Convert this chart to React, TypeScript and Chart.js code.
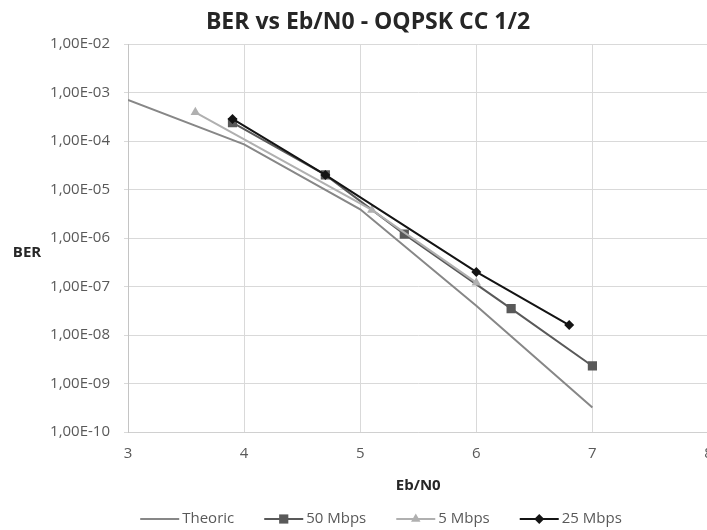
import React, { useEffect, useRef } from 'react';
import { Chart, registerables } from 'chart.js';

Chart.register(...registerables);

// ---- data ----
const theoricX = [3, 4, 5, 6, 7];
const theoricBer = [7e-4, 8.5e-5, 3.9e-6, 4e-8, 3.2e-10];
const mbps50X = [3.9, 4.7, 5.38, 6.3, 7.0];
const mbps50Ber = [2.4e-4, 2e-5, 1.2e-6, 3.5e-8, 2.3e-9];
const mbps5X = [3.58, 5.1, 6.0];
const mbps5Ber = [3.9e-4, 3.8e-6, 1.2e-7];
const mbps25X = [3.9, 4.7, 6.0, 6.8];
const mbps25Ber = [2.85e-4, 2e-5, 2e-7, 1.6e-8];

const seriesNames = ['Theoric', '50 Mbps', '5 Mbps', '25 Mbps'];
const xTickValues = [3, 4, 5, 6, 7, 8];
const yTickValues = [1e-2, 1e-3, 1e-4, 1e-5, 1e-6, 1e-7, 1e-8, 1e-9, 1e-10];
const yTickLabels = ['1,00E-02', '1,00E-03', '1,00E-04', '1,00E-05', '1,00E-06', '1,00E-07', '1,00E-08', '1,00E-09', '1,00E-10'];

const titleText = 'BER vs Eb/N0 - OQPSK CC 1/2';
const yTitle = 'BER';
const xTitle = 'Eb/N0';

// ---- styles ----
const FONT = '"Open Sans", "Noto Sans", sans-serif';
const seriesStyles = [
  { color: '#878787', point: false as false | string, radius: 0 },
  { color: '#595959', point: 'rect', radius: 6.5 },
  { color: '#b0b0b0', point: 'triangle', radius: 5.5 },
  { color: '#141414', point: 'rectRot', radius: 5 },
];

const toPoints = (xs: number[], ys: number[]) => xs.map((x, i) => ({ x, y: ys[i] }));

function drawMarker(ctx: CanvasRenderingContext2D, style: string, x: number, y: number, r: number, color: string) {
  ctx.save();
  ctx.fillStyle = color;
  ctx.beginPath();
  if (style === 'rect') {
    const s = Math.SQRT1_2 * r;
    ctx.rect(x - s, y - s, 2 * s, 2 * s);
  } else if (style === 'rectRot') {
    ctx.moveTo(x, y - r);
    ctx.lineTo(x + r, y);
    ctx.lineTo(x, y + r);
    ctx.lineTo(x - r, y);
    ctx.closePath();
  } else if (style === 'triangle') {
    ctx.moveTo(x, y - r);
    ctx.lineTo(x + r * 0.866, y + r * 0.5);
    ctx.lineTo(x - r * 0.866, y + r * 0.5);
    ctx.closePath();
  }
  ctx.fill();
  ctx.restore();
}

const textPlugin = {
  id: 'textPlugin',
  afterDraw(chart: any) {
    const ctx: CanvasRenderingContext2D = chart.ctx;
    const area = chart.chartArea;
    ctx.save();
    // title
    ctx.fillStyle = '#262626';
    ctx.font = `bold 23px ${FONT}`;
    ctx.textAlign = 'center';
    ctx.textBaseline = 'middle';
    ctx.fillText(titleText, 368, 22);
    // y title
    ctx.font = `bold 15px ${FONT}`;
    ctx.fillText(yTitle, 27, 253);
    // x title
    ctx.fillText(xTitle, (area.left + area.right) / 2, 486);

    // legend
    ctx.font = `15px ${FONT}`;
    const lineLen = 39;
    const gap = 3;
    const itemGap = 30;
    const widths = seriesNames.map((n) => lineLen + gap + ctx.measureText(n).width);
    const total = widths.reduce((a, b) => a + b, 0) + itemGap * (seriesNames.length - 1);
    let x = 381 - total / 2;
    const ly = 519;
    seriesNames.forEach((name, i) => {
      const st = seriesStyles[i];
      ctx.strokeStyle = st.color;
      ctx.lineWidth = 2;
      ctx.beginPath();
      ctx.moveTo(x, ly);
      ctx.lineTo(x + lineLen, ly);
      ctx.stroke();
      if (st.point) drawMarker(ctx, st.point, x + lineLen / 2, ly, st.radius, st.color);
      ctx.fillStyle = '#595959';
      ctx.textAlign = 'left';
      ctx.textBaseline = 'middle';
      ctx.fillText(name, x + lineLen + gap, ly);
      x += widths[i] + itemGap;
    });
    ctx.restore();
  },
};

export default function App() {
  const canvasRef = useRef<HTMLCanvasElement | null>(null);

  useEffect(() => {
    if (!canvasRef.current) return;
    const seriesData = [
      toPoints(theoricX, theoricBer),
      toPoints(mbps50X, mbps50Ber),
      toPoints(mbps5X, mbps5Ber),
      toPoints(mbps25X, mbps25Ber),
    ];
    const chart = new Chart(canvasRef.current, {
      type: 'line',
      data: {
        datasets: seriesNames.map((name, i) => ({
          label: name,
          data: seriesData[i],
          borderColor: seriesStyles[i].color,
          backgroundColor: seriesStyles[i].color,
          borderWidth: 2,
          tension: 0,
          fill: false,
          pointStyle: seriesStyles[i].point || 'circle',
          pointRadius: seriesStyles[i].point ? seriesStyles[i].radius : 0,
          pointHoverRadius: seriesStyles[i].point ? seriesStyles[i].radius : 0,
          pointBorderWidth: 0,
          order: seriesNames.length - i,
        })),
      },
      options: {
        responsive: false,
        animation: false,
        events: [],
        layout: { padding: { left: 0, top: 44, right: 2, bottom: 0 } },
        plugins: {
          legend: { display: false },
          title: { display: false },
          tooltip: { enabled: false },
        },
        scales: {
          x: {
            type: 'linear',
            min: 3,
            max: 8,
            afterBuildTicks: (scale: any) => {
              scale.ticks = xTickValues.map((v) => ({ value: v }));
            },
            afterFit: (scale: any) => {
              scale.height = 98;
              scale.paddingLeft = 0;
              scale.paddingRight = 0;
            },
            grid: { color: '#d9d9d9', lineWidth: 1, drawTicks: false },
            border: { color: '#d0d0d0', width: 1 },
            ticks: {
              padding: 13,
              color: '#595959',
              font: { family: FONT, size: 15 },
              callback: (v: any) => String(v),
            },
          },
          y: {
            type: 'logarithmic',
            min: 1e-10,
            max: 1e-2,
            afterBuildTicks: (scale: any) => {
              scale.ticks = yTickValues.map((v) => ({ value: v }));
            },
            afterFit: (scale: any) => {
              scale.width = 128;
            },
            grid: { color: '#d9d9d9', lineWidth: 1, drawTicks: true, tickLength: 4 },
            border: { color: '#c4c4c4', width: 1 },
            ticks: {
              padding: 14,
              color: '#595959',
              font: { family: FONT, size: 15 },
              callback: (v: any) => {
                const idx = yTickValues.findIndex((t) => Math.abs(Math.log10(t) - Math.log10(Number(v))) < 1e-6);
                return idx >= 0 ? yTickLabels[idx] : '';
              },
            },
          },
        },
      },
      plugins: [textPlugin],
    });
    return () => chart.destroy();
  }, []);

  return (
    <div style={{ position: 'absolute', left: 0, top: 0, width: 707, height: 530, overflow: 'hidden', background: '#fff' }}>
      <canvas ref={canvasRef} width={715} height={530} style={{ display: 'block' }} />
    </div>
  );
}
